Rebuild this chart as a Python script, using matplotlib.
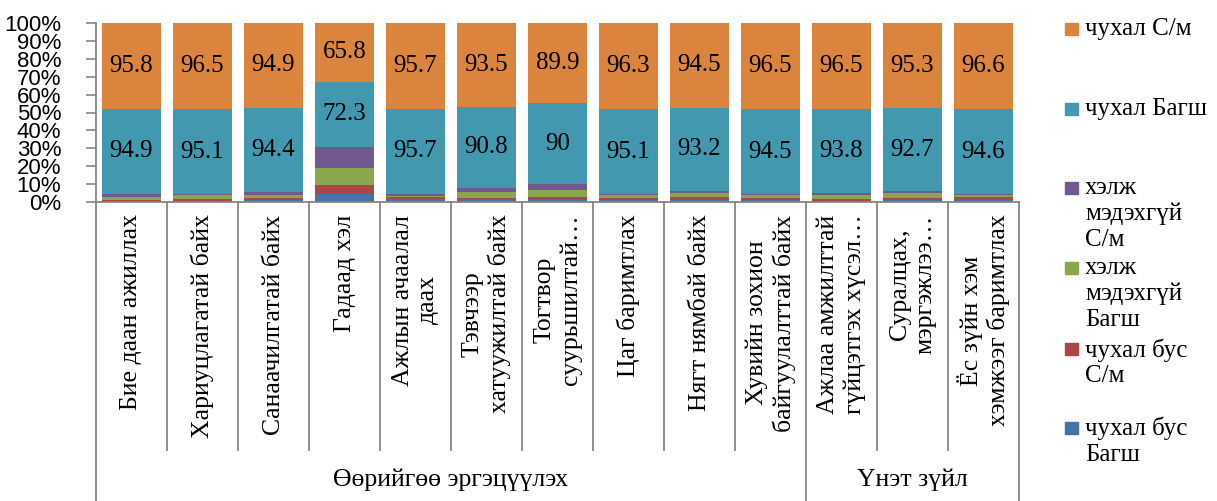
import matplotlib
matplotlib.use("Agg")
import matplotlib.pyplot as plt
from matplotlib.patches import Rectangle
from matplotlib.lines import Line2D
import numpy as np

categories = [
    "Бие даан ажиллах",
    "Хариуцлагатай байх",
    "Санаачилгатай байх",
    "Гадаад хэл",
    "Ажлын ачаалал\nдаах",
    "Тэвчээр\nхатуужилтай байх",
    "Тогтвор\nсуурьшилтай…",
    "Цаг баримтлах",
    "Нягт нямбай байх",
    "Хувийн зохион\nбайгуулалттай байх",
    "Ажлаа амжилттай\nгүйцэтгэх хүсэл…",
    "Суралцах,\nмэргэжлээ…",
    "Ёс зүйн хэм\nхэмжээг баримтлах",
]
groups = ["Өөрийгөө эргэцүүлэх", "Үнэт зүйл"]
group_sizes = [10, 3]

# series (bottom to top)
chuhal_bus_bagsh = [1.6, 1.4, 2.0, 8.7, 2.8, 3.2, 2.5, 1.9, 2.3, 2.0, 1.5, 1.8, 2.6]
chuhal_bus_sm    = [0.8, 2.5, 2.6, 10.7, 2.8, 1.5, 3.6, 2.7, 3.0, 2.3, 2.0, 2.7, 2.8]
helj_bagsh       = [3.5, 3.5, 3.6, 19.0, 1.5, 6.0, 7.5, 3.0, 4.5, 3.5, 4.7, 5.5, 2.8]
helj_sm          = [3.4, 1.0, 2.5, 23.5, 1.5, 5.0, 6.5, 1.0, 2.5, 1.2, 1.5, 2.0, 0.6]
chuhal_bagsh     = [94.9, 95.1, 94.4, 72.3, 95.7, 90.8, 90, 95.1, 93.2, 94.5, 93.8, 92.7, 94.6]
chuhal_sm        = [95.8, 96.5, 94.9, 65.8, 95.7, 93.5, 89.9, 96.3, 94.5, 96.5, 96.5, 95.3, 96.6]

series_names = ["чухал бус\nБагш", "чухал бус\nС/м", "хэлж\nмэдэхгүй\nБагш",
                "хэлж\nмэдэхгүй\nС/м", "чухал Багш", "чухал С/м"]
series = [chuhal_bus_bagsh, chuhal_bus_sm, helj_bagsh, helj_sm, chuhal_bagsh, chuhal_sm]
colors = ["#4572A7", "#AA4643", "#89A54E", "#71588F", "#4198AF", "#DB843D"]

W, H = 1217, 501
fig = plt.figure(figsize=(W / 100, H / 100), dpi=100)
L, R, T, B = 96, 1019, 23, 202
ax = fig.add_axes([L / W, 1 - B / H, (R - L) / W, (B - T) / H])

serif = "Liberation Serif"
fs = 18
fs_tick = 18.5

data = np.array(series, dtype=float)
totals = data.sum(axis=0)
pct = data / totals * 100
x = np.arange(len(categories))
bottom = np.zeros(len(categories))
for i, (vals, c) in enumerate(zip(pct, colors)):
    ax.bar(x, vals, bottom=bottom, width=0.83, color=c, edgecolor="none", zorder=2)
    if i >= 4:
        for xi, b, v, raw in zip(x, bottom, vals, data[i]):
            ax.text(xi, b + v / 2, f"{raw:g}", ha="center", va="center",
                    fontsize=fs, family=serif, color="black", zorder=3)
    bottom += vals

ax.set_xlim(-0.5, len(categories) - 0.5)
ax.set_ylim(0, 100)
ax.set_yticks(np.arange(0, 101, 10))
ax.set_yticklabels([f"{v}%" for v in range(0, 101, 10)], fontsize=16,
                   family="Liberation Sans")
ax.tick_params(axis="y", length=7, width=1.2, color="#868686", pad=18)
for s in ["top", "right"]:
    ax.spines[s].set_visible(False)
ax.spines["left"].set_color("#868686")
ax.spines["left"].set_linewidth(1.3)
ax.spines["bottom"].set_color("#868686")
ax.spines["bottom"].set_linewidth(1.3)

ax.set_xticks(x)
ax.set_xticklabels(categories, rotation=90, fontsize=fs_tick, family=serif,
                   multialignment="center", linespacing=1.22)
ax.tick_params(axis="x", length=0, pad=9)

# separators for multi-level category axis
h = B - T
y_inner = -(450 - B) / h
y_outer = -(H - B) / h
tr = ax.get_xaxis_transform()
boundaries = np.arange(len(categories) + 1) - 0.5
group_edges = np.concatenate([[0], np.cumsum(group_sizes)])
for bnd_i, bx in enumerate(boundaries):
    ybot = y_outer if bnd_i in group_edges else y_inner
    ax.add_line(Line2D([bx, bx], [0, ybot], transform=tr, color="#868686",
                       lw=1.3, clip_on=False))
for g, s0, s1 in zip(groups, group_edges[:-1], group_edges[1:]):
    ax.text((s0 + s1 - 1) / 2, -(480 - B) / h, g, transform=tr, ha="center",
            va="center", fontsize=fs_tick, family=serif)

# legend (manual, Excel-like layout)
leg_names = series_names[::-1]
leg_colors = colors[::-1]
leg_y = [23, 103, 182, 262, 343, 422]
for name, c, yy in zip(leg_names, leg_colors, leg_y):
    fig.patches.append(Rectangle((1065 / W, 1 - (yy + 12) / H), 13 / W, 12 / H,
                                 transform=fig.transFigure, color=c))
    fig.text(1085 / W, 1 - (yy - 5) / H, name, ha="left", va="top",
             fontsize=fs, family=serif, linespacing=1.22)

fig.savefig("out.png", dpi=100)
